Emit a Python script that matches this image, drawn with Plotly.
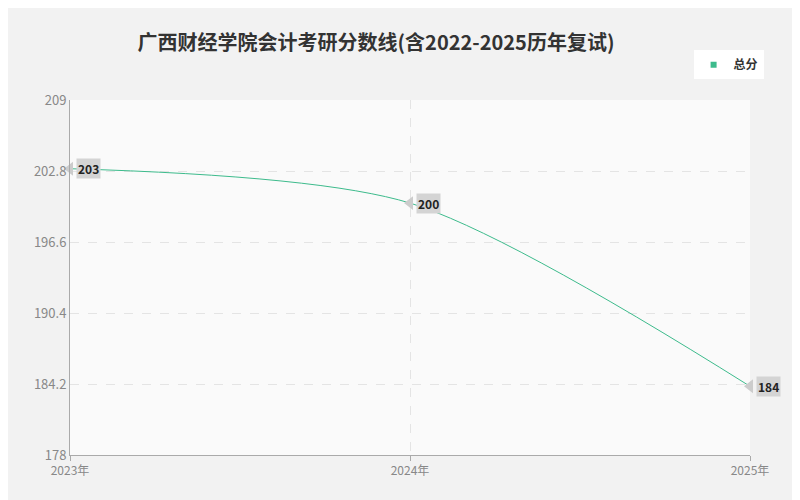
import plotly.graph_objects as go

years = [2023, 2024, 2025]
year_labels = ["2023年", "2024年", "2025年"]
scores = [203, 200, 184]
y_ticks = [178, 184.2, 190.4, 196.6, 202.8, 209]

line_color = "#3dbb8c"

fig = go.Figure()

# main line
fig.add_trace(go.Scatter(
    x=years, y=scores, mode="lines",
    line=dict(color=line_color, width=1, shape="spline", smoothing=0.8),
    showlegend=False, hoverinfo="skip",
))

# label pointers
fig.add_trace(go.Scatter(
    x=years, y=scores, mode="markers",
    marker=dict(symbol="triangle-left", size=12, color="#cccccc"),
    showlegend=False, hoverinfo="skip", cliponaxis=False,
))

# legend entry
fig.add_trace(go.Scatter(
    x=[None], y=[None], mode="markers", name="<b>总分</b>",
    marker=dict(symbol="square", size=6, color=line_color),
))

for x, y in zip(years, scores):
    fig.add_annotation(
        x=x, y=y, text=f"<b>{y}</b>", showarrow=False,
        xanchor="left", xshift=6, bgcolor="#d4d4d4",
        font=dict(size=12, color="#222"), borderpad=1,
    )

fig.update_layout(
    width=800, height=500,
    paper_bgcolor="#f2f2f2", plot_bgcolor="#fafafa",
    font=dict(family="Noto Sans CJK SC, sans-serif", color="#888"),
    title=dict(text="<b>广西财经学院会计考研分数线(含2022-2025历年复试)</b>",
               x=0.46, xanchor="center", y=0.945,
               font=dict(size=20, color="#333")),
    margin=dict(l=62, r=58, t=92, b=53),
    legend=dict(x=1.02, y=1.14, xanchor="right", yanchor="top",
                bgcolor="#ffffff", font=dict(size=12, color="#333"),
                itemwidth=30),
    xaxis=dict(range=[2023, 2025], tickvals=years, ticktext=year_labels,
               showgrid=True, gridcolor="#e4e4e4", griddash="dash",
               showline=True, linecolor="#aaa", ticks="outside",
               tickcolor="#aaa", zeroline=False,
               tickfont=dict(size=12, color="#888")),
    yaxis=dict(range=[178, 209], tickvals=y_ticks,
               ticktext=[f"{v:g}" for v in y_ticks],
               showgrid=True, gridcolor="#e4e4e4", griddash="dash",
               showline=True, linecolor="#aaa", zeroline=False,
               tickfont=dict(size=13, color="#888")),
)

fig.write_html("out.html")
